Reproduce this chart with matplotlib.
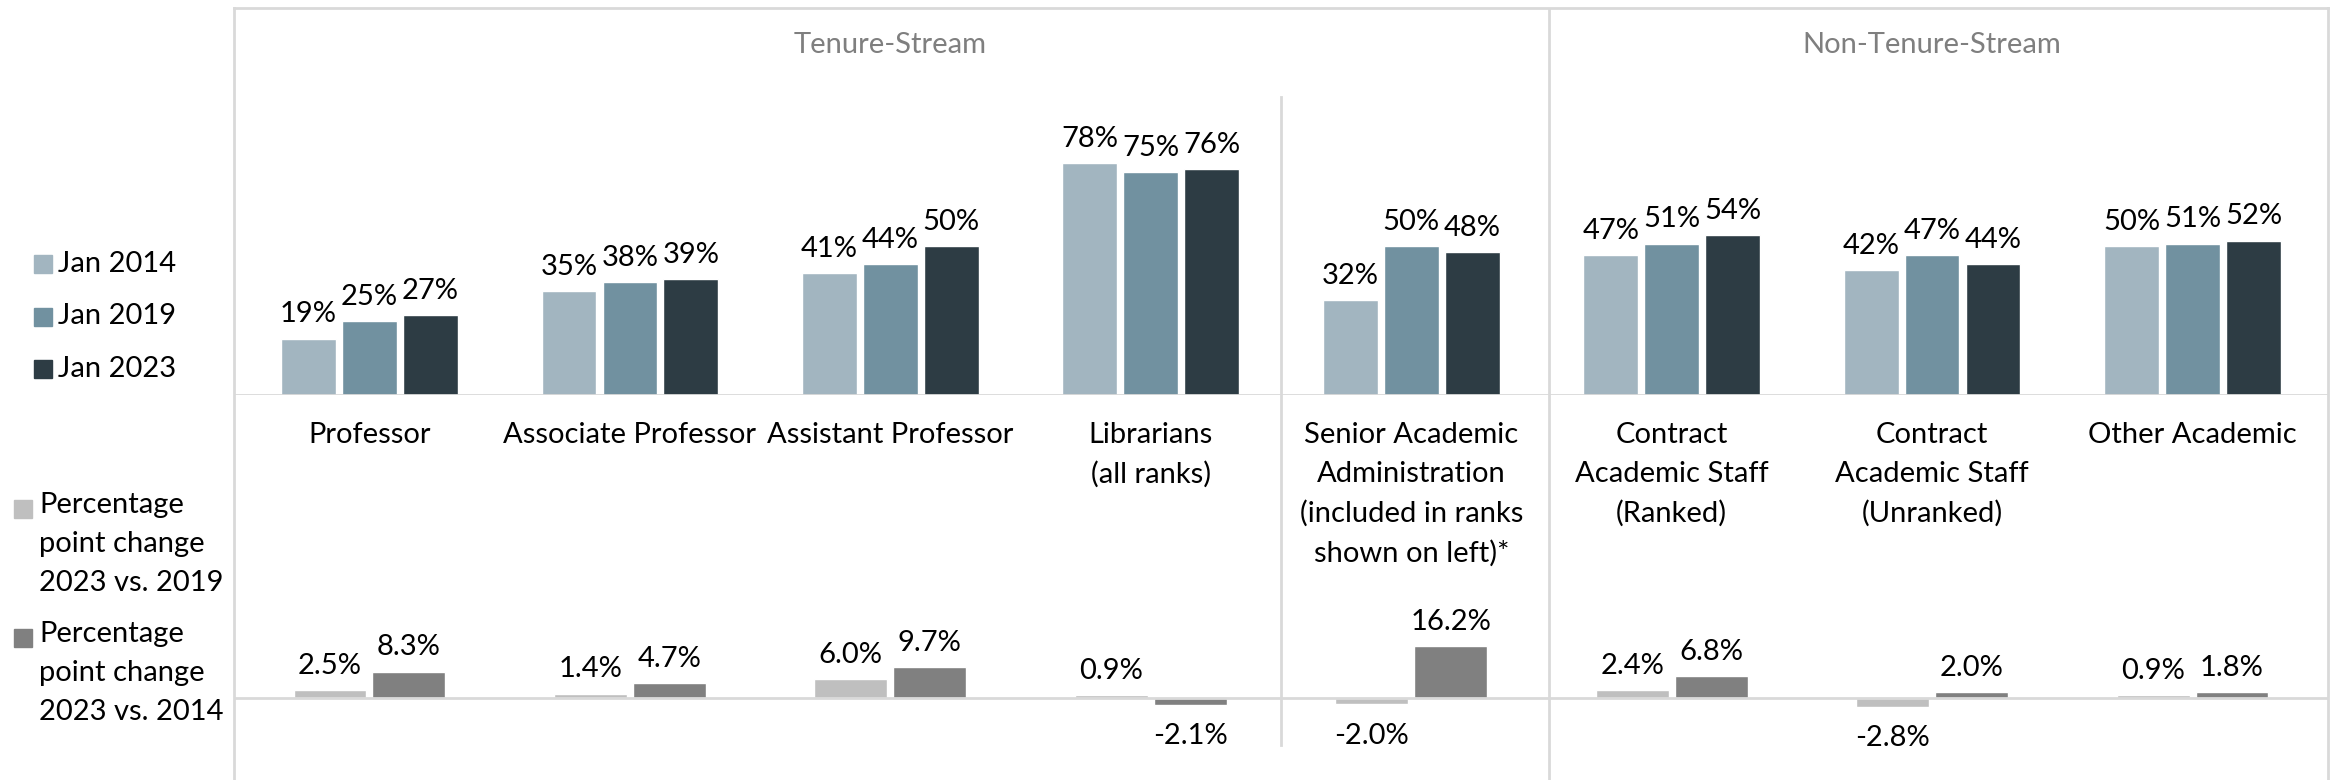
"""
Share of women by academic rank, Jan 2014 / 2019 / 2023, with percentage point changes below.
"""

import matplotlib.pyplot as plt
from matplotlib.patches import Rectangle
import numpy as np

categories = [
    "Professor",
    "Associate Professor",
    "Assistant Professor",
    "Librarians\n(all ranks)",
    "Senior Academic\nAdministration\n(included in ranks\nshown on left)*",
    "Contract\nAcademic Staff\n(Ranked)",
    "Contract\nAcademic Staff\n(Unranked)",
    "Other Academic",
]
years = ["Jan 2014", "Jan 2019", "Jan 2023"]
jan_2014 = [19, 35, 41, 78, 32, 47, 42, 50]
jan_2019 = [25, 38, 44, 75, 50, 51, 47, 51]
jan_2023 = [27, 39, 50, 76, 48, 54, 44, 52]
change_names = [
    "Percentage\npoint change\n2023 vs. 2019",
    "Percentage\npoint change\n2023 vs. 2014",
]
change_vs_2019 = [2.5, 1.4, 6.0, 0.9, -2.0, 2.4, -2.8, 0.9]
change_vs_2014 = [8.3, 4.7, 9.7, -2.1, 16.2, 6.8, 2.0, 1.8]
groups = ["Tenure-Stream", "Non-Tenure-Stream"]

year_colors = ["#A2B5C0", "#7191A0", "#2D3C44"]
change_colors = ["#BFBFBF", "#808080"]
line_col = "#D9D9D9"

W, H = 2335, 780
plt.rcParams["font.family"] = ["Lato", "DejaVu Sans"]
FS = 21

fig = plt.figure(figsize=(W / 100, H / 100), dpi=100)


def fx(px):
    return px / W


def fy(py):
    return 1 - py / H


left, right = 234, 2328
xlim = (-0.52, 7.52)
x = np.arange(len(categories))

# frame
ax_bg = fig.add_axes([fx(left), 0, fx(right - left), fy(8)])
ax_bg.set_xlim(*xlim)
ax_bg.set_ylim(0, 1)
ax_bg.set_xticks([])
ax_bg.set_yticks([])
ax_bg.spines["bottom"].set_visible(False)
for s in ["left", "top", "right"]:
    ax_bg.spines[s].set_color(line_col)
    ax_bg.spines[s].set_linewidth(2)
ax_bg.axvline(4.53, color=line_col, lw=2)
ax_bg.axvline(3.5, ymin=(H - 745) / (H - 8), ymax=(H - 97) / (H - 8), color=line_col, lw=2)

# top panel: shares
ax_top = fig.add_axes([fx(left), fy(395), fx(right - left), fy(8) - fy(395)])
ax_top.set_xlim(*xlim)
ax_top.set_ylim(0, 130.3)
ax_top.axis("off")
ax_top.axhline(0, color=line_col, lw=2)
bw = 0.21
step = 0.234
for k, (vals, col) in enumerate(zip([jan_2014, jan_2019, jan_2023], year_colors)):
    bars = ax_top.bar(x + (k - 1) * step, vals, bw, color=col, edgecolor="white", linewidth=1)
    ax_top.bar_label(bars, labels=[f"{v}%" for v in vals], padding=8, fontsize=FS)

ax_top.text(2.0, 0.904, groups[0], transform=ax_top.get_xaxis_transform(),
            ha="center", va="center", fontsize=FS, color="#7F7F7F")
ax_top.text(6.0, 0.904, groups[1], transform=ax_top.get_xaxis_transform(),
            ha="center", va="center", fontsize=FS, color="#7F7F7F")

# bottom panel: percentage point changes
ax_bot = fig.add_axes([fx(left), 0, fx(right - left), fy(395)])
ax_bot.set_xlim(*xlim)
ax_bot.set_ylim(-25.6, 94.7)
ax_bot.axis("off")
ax_bot.axhline(0, color=line_col, lw=2)
cw = 0.28
cstep = 0.303
for k, (vals, col) in enumerate(zip([change_vs_2019, change_vs_2014], change_colors)):
    bars = ax_bot.bar(x + (k - 0.5) * cstep, vals, cw, color=col, edgecolor="white", linewidth=1)
    for b, v in zip(bars, vals):
        off = 8 if v >= 0 else -13
        ax_bot.annotate(f"{v:.1f}%", (b.get_x() + b.get_width() / 2, v),
                        xytext=(0, off), textcoords="offset points",
                        ha="center", va="bottom" if v >= 0 else "top", fontsize=FS)

for i, lab in enumerate(categories):
    ax_bot.text(i, 0.93, lab, transform=ax_bot.get_xaxis_transform(),
                ha="center", va="top", fontsize=FS, linespacing=1.6)

# legends (left margin)
sq = 18
for k, (name, col) in enumerate(zip(years, year_colors)):
    cy = 264 + k * 52.5
    fig.patches.append(Rectangle((fx(34), fy(cy + sq / 2)), fx(sq), sq / H,
                                 transform=fig.transFigure, color=col))
    fig.text(fx(58), fy(cy), name, ha="left", va="center", fontsize=FS)

for k, (name, col) in enumerate(zip(change_names, change_colors)):
    cy = 509 + k * 129
    fig.patches.append(Rectangle((fx(14), fy(cy + sq / 2)), fx(sq), sq / H,
                                 transform=fig.transFigure, color=col))
    fig.text(fx(39), fy(cy - 17), name, ha="left", va="top", fontsize=FS, linespacing=1.63)

fig.savefig("out.png", dpi=100)
plt.close(fig)
